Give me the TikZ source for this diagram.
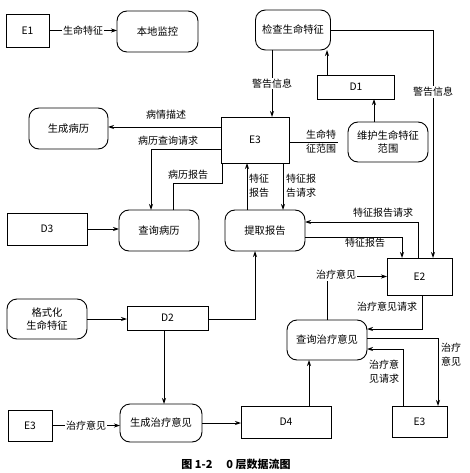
\documentclass[tikz,border=0pt]{standalone}
\usepackage{fontspec}
\setmainfont{Noto Sans CJK SC}
\usetikzlibrary{arrows.meta,calc}
\begin{document}
\begin{tikzpicture}[x=1pt,y=-1pt,
  base/.style={draw,line width=0.9pt,outer sep=0pt,inner sep=1pt,align=center,font=\fontsize{10.3}{13}\selectfont},
  proc/.style={base,rounded corners=10pt},
  ent/.style={base},
  store/.style={base},
  lbl/.style={fill=white,inner sep=1pt,align=center,font=\fontsize{10}{14}\selectfont},
  lbln/.style={inner sep=1pt,align=center,font=\fontsize{10}{14}\selectfont},
  conn/.style={line width=0.9pt},
  arr/.style={conn,-{Stealth[length=6pt,width=4pt]}}]
\useasboundingbox (0,0) rectangle (470,473);
% nodes
\node[ent,minimum width=43,minimum height=33] (E1) at (27.5,30.5) {E1};
\node[proc,minimum width=81,minimum height=41] (bdjk) at (157.5,31.5) {本地监控};
\node[proc,minimum width=75,minimum height=40] (jc) at (293,30) {检查生命特征};
\node[store,minimum width=77,minimum height=24] (D1) at (356,87) {D1};
\node[proc,minimum width=79,minimum height=41] (scbl) at (68.5,128.5) {生成病历};
\node[ent,minimum width=68,minimum height=46] (E3a) at (255,140) {E3};
\node[proc,minimum width=80,minimum height=40] (wh) at (388,142) {维护生命特征\\范围};
\node[store,minimum width=80,minimum height=32] (D3) at (47,229) {D3};
\node[proc,minimum width=80,minimum height=41] (cxbl) at (159,230.5) {查询病历};
\node[proc,minimum width=80,minimum height=41] (tqbg) at (265,230.5) {提取报告};
\node[ent,minimum width=65,minimum height=37] (E2) at (419.5,276.5) {E2};
\node[proc,minimum width=80,minimum height=40] (gsh) at (47,319) {格式化\\生命特征};
\node[store,minimum width=81,minimum height=24] (D2) at (167.5,318) {D2};
\node[proc,minimum width=80,minimum height=40] (cxzl) at (327,340) {查询治疗意见};
\node[ent,minimum width=44,minimum height=31] (E3b) at (30,425.5) {E3};
\node[proc,minimum width=82,minimum height=38] (sczl) at (161,423) {生成治疗意见};
\node[store,minimum width=90,minimum height=32] (D4) at (286,422) {D4};
\node[ent,minimum width=55,minimum height=31] (E3c) at (419.5,421.5) {E3};
\coordinate (whend) at (338,142);
\coordinate (blcorner) at (222,183);
% connectors
\draw[arr] (E1.east) -- node[lbl]{生命特征} (bdjk.west |- E1.east);
\draw[arr] (jc.south -| 272,0) -- node[lbl]{警告信息} (E3a.north -| 272,0);
\draw[arr] (D1.north -| 327,0) -- (jc.south -| 327,0);
\draw[arr] (wh.north -| 374,0) -- (D1.south -| 374,0);
\draw[arr] (jc.east) -| (E2.north -| 433,0);
\node[lbl] at (433,92) {警告信息};
\draw[arr] (E3a.west |- 0,127) -- (scbl.east |- 0,127);
\node[lbln] at (166,115) {病情描述};
\draw[arr] (E3a.west |- 0,149) -| (cxbl.north -| 151,0);
\node[lbln] at (168,141) {病历查询请求};
\draw[conn] (cxbl.north -| 173,0) |- (blcorner) -- (E3a.south -| blcorner);
\node[lbln] at (188,175) {病历报告};
\draw[arr] (tqbg.north -| 247,0) -- (E3a.south -| 247,0);
\node[lbln,anchor=west] at (248,186) {特征\\报告};
\draw[arr] (E3a.south -| 283,0) -- (tqbg.north -| 283,0);
\node[lbln,anchor=west] at (285,186) {特征报\\告请求};
\draw[conn] (E3a.east |- whend) -- (whend);
\node[lbln] at (321,141.5) {生命特\\征范围};
\draw[arr] (E2.north -| 418,0) |- (tqbg.east |- 0,222);
\node[lbln] at (383,213) {特征报告请求};
\draw[arr] (tqbg.east |- 0,237) -| (E2.north -| 402,0);
\node[lbln] at (365,243) {特征报告};
\draw[arr] (cxzl.north) |- (E2.west);
\node[lbl] at (336,275) {治疗意见};
\draw[arr] (E2.south -| 422,0) |- (cxzl.east |- 0,329);
\node[lbln] at (387,307) {治疗意见请求};
\draw[arr] (cxzl.east |- 0,338) -| (E3c.north -| 438,0);
\node[lbln,anchor=west] at (440,355) {治疗\\意见};
\draw[arr] (E3c.north -| 403,0) |- (cxzl.east |- 0,349);
\node[lbln] at (384,372) {治疗意\\见请求};
\draw[arr] (D4.north -| 309,0) -- (cxzl.south -| 309,0);
\draw[arr] (gsh.east) -- (D2.west |- gsh.east);
\draw[arr] (D2.east |- 0,319) -| (tqbg.south -| 255,0);
\draw[arr] (D2.south -| 164,0) -- (sczl.north -| 164,0);
\draw[arr] (E3b.east) -- node[lbl]{治疗意见} (sczl.west |- E3b.east);
\draw[arr] (sczl.east) -- (D4.west |- sczl.east);
\draw[arr] (D3.east) -- (cxbl.west |- D3.east);
\node[font=\fontsize{11}{13}\selectfont\bfseries] (cap) at (236,464) {图 1-2\hspace{14pt}0 层数据流图};
\end{tikzpicture}
\end{document}
